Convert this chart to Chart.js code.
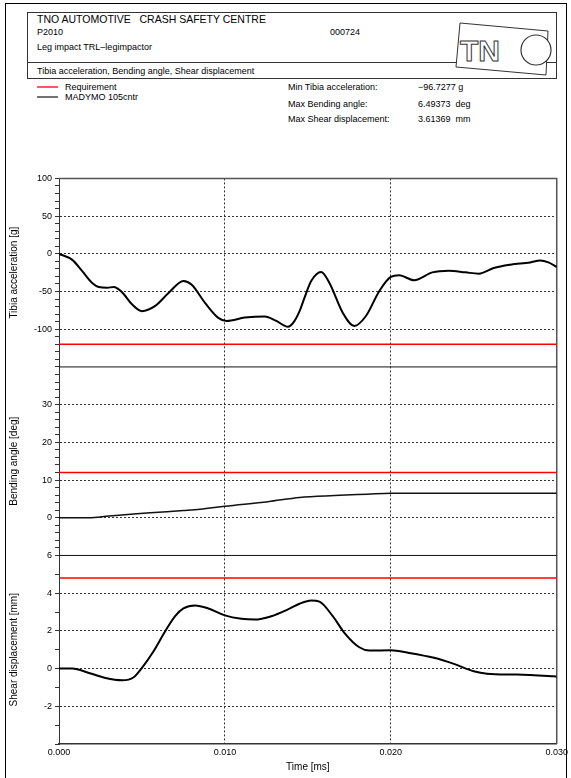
<!DOCTYPE html>
<html>
<head>
<meta charset="utf-8">
<script src="https://cdn.jsdelivr.net/npm/chart.js@4.4.0/dist/chart.umd.min.js"></script>
<style>
  html, body { margin: 0; padding: 0; background: #fff; }
  body { width: 571px; height: 778px; position: relative; overflow: hidden;
         font-family: "Liberation Sans", Arial, sans-serif; color: #000; }
  .frame { position: absolute; left: 5px; top: 3px; width: 560px; height: 800px; border: 1px solid #000; }
  .hdr { position: absolute; left: 27px; top: 12px; width: 528px; height: 65px; border: 1px solid #333; }
  .rule { position: absolute; left: 27px; top: 62px; width: 530px; height: 1px; background: #333; }
  .t { position: absolute; white-space: pre; line-height: 1; font-size: 9px; }
  .big { font-size: 10.5px; }
  .keys { position: absolute; left: 36px; top: 84px; }
  #wrap { position: absolute; left: 0; top: 170px; width: 571px; height: 608px; }
  .logo { position: absolute; left: 450px; top: 17px; }
</style>
</head>
<body>
<div class="frame"></div>
<div class="hdr"></div>
<div class="rule"></div>
<div class="t big" style="left:37px;top:13.5px;">TNO AUTOMOTIVE   CRASH SAFETY CENTRE</div>
<div class="t" style="left:37px;top:27.5px;">P2010</div>
<div class="t" style="left:330px;top:27.5px;">000724</div>
<div class="t" style="left:37px;top:42.5px;">Leg impact TRL–legimpactor</div>
<div class="t" style="left:37px;top:66.5px;">Tibia acceleration, Bending angle, Shear displacement</div>
<svg class="logo" width="106" height="62" viewBox="0 0 106 62">
  <polygon points="10,6 98,14 96,58 6,50" fill="#fff" stroke="#333" stroke-width="1"/>
  <circle cx="86" cy="33" r="15" fill="#fff" stroke="#333" stroke-width="1.2"/>
  <text x="10" y="44" font-family="Liberation Sans, Arial" font-weight="bold" font-size="30" fill="#fff" stroke="#333" stroke-width="1">TN</text>
</svg>

<svg class="keys" width="24" height="16" viewBox="0 0 24 16">
  <line x1="1" y1="3" x2="22" y2="3" stroke="#ff0000" stroke-width="1.3"/>
  <line x1="1" y1="13" x2="22" y2="13" stroke="#000" stroke-width="1.1"/>
</svg>
<div class="t" style="left:65px;top:82.5px;">Requirement</div>
<div class="t" style="left:65px;top:92.5px;">MADYMO 105cntr</div>

<div class="t" style="left:288px;top:82.5px;">Min Tibia acceleration:</div>
<div class="t" style="left:418px;top:82.5px;">−96.7277 g</div>
<div class="t" style="left:288px;top:99.5px;">Max Bending angle:</div>
<div class="t" style="left:418px;top:99.5px;">6.49373  deg</div>
<div class="t" style="left:288px;top:114.5px;">Max Shear displacement:</div>
<div class="t" style="left:418px;top:114.5px;">3.61369  mm</div>

<div id="wrap"><canvas id="c"></canvas></div>

<script>
// time axis [s], labelled as on the plot
const timeTibia = [0, 0.0008, 0.0014, 0.002, 0.0024, 0.0029, 0.0033, 0.0038, 0.0044, 0.005, 0.0058, 0.0066,
  0.0075, 0.008, 0.0088, 0.0096, 0.0101, 0.0112, 0.0124, 0.0131, 0.0138, 0.0141, 0.0145, 0.0148, 0.0152,
  0.0158, 0.0163, 0.0171, 0.0178, 0.0185, 0.0193, 0.02, 0.0205, 0.0214, 0.0225, 0.0235, 0.0245, 0.0253,
  0.0262, 0.0272, 0.0284, 0.029, 0.0295, 0.03];
const tibia = [0, -8, -23, -38.6, -44, -45, -44, -51, -67, -76, -69, -52,
  -36, -41, -65, -85, -89, -84.6, -83, -89, -96.7, -92, -76, -58, -36,
  -24, -38.6, -78, -95.6, -82.5, -49.6, -30.7, -28.5, -35, -24.6, -22.4, -24.6, -26.3,
  -18.9, -14.5, -11.4, -8.8, -11.4, -17.5];

const timeBend = [0, 0.0018, 0.003, 0.0045, 0.006, 0.0075, 0.0085, 0.01, 0.0126, 0.0145, 0.0166, 0.0186, 0.02, 0.03];
const bend = [0, 0, 0.45, 1.0, 1.45, 1.9, 2.24, 3.05, 4.27, 5.4, 5.9, 6.25, 6.49, 6.49];

const timeShear = [0, 0.0008, 0.0018, 0.0028, 0.0038, 0.0045, 0.005, 0.0057, 0.0064, 0.007, 0.0075, 0.0082,
  0.009, 0.01, 0.011, 0.0118, 0.0128, 0.0138, 0.0145, 0.0152, 0.0157, 0.0165, 0.0172, 0.0181, 0.0187,
  0.02, 0.0211, 0.0226, 0.0238, 0.025, 0.0258, 0.0276, 0.0298, 0.03];
const shear = [0, 0, -0.23, -0.5, -0.62, -0.46, 0.04, 0.92, 1.98, 2.78, 3.19, 3.35,
  3.19, 2.82, 2.64, 2.6, 2.78, 3.14, 3.44, 3.61, 3.55, 2.78, 1.9, 1.13, 0.96,
  0.97, 0.83, 0.57, 0.25, -0.14, -0.27, -0.32, -0.41, -0.42];

// requirement levels
const reqTime = [0, 0.03];
const reqTibia = [-120, -120];
const reqBend = [12, 12];
const reqShear = [4.8, 4.8];

const xTicks = [0, 0.01, 0.02, 0.03];

const pts = (xs, ys) => xs.map((x, i) => ({ x: x, y: ys[i] }));

const FONT = "'Liberation Sans', Arial, sans-serif";
const dotted = "#333";
const none = "rgba(0,0,0,0)";

function yAxis(min, max, step, labelled, title, gridAt) {
  return {
    type: "linear", position: "left", stack: "panels", stackWeight: 1,
    min: min, max: max,
    afterFit: (s) => { s.width = 59; },
    ticks: {
      stepSize: step, maxTicksLimit: 100, autoSkip: false, padding: 3,
      color: "#000", font: { family: FONT, size: 9 },
      callback: (v) => (labelled(Math.round(v)) ? String(Math.round(v)) : "")
    },
    grid: {
      color: (c) => (gridAt(Math.round(c.tick.value)) ? dotted : none),
      lineWidth: 1, tickLength: 4, tickColor: "#333", tickWidth: 1
    },
    border: { color: "#333", width: 1, dash: [2, 2] },
    title: { display: true, text: title, color: "#000", font: { family: FONT, size: 10 }, padding: { top: 8, bottom: 0 } }
  };
}

const frameLines = {
  id: "frameLines",
  beforeDatasetsDraw(chart) {
    const { ctx, chartArea: a, scales } = chart;
    ctx.save();
    ctx.strokeStyle = "#555";
    ctx.lineWidth = 1.5;
    ctx.beginPath();
    ctx.moveTo(a.left, a.top);
    ctx.lineTo(a.right, a.top);
    ctx.lineTo(a.right, a.bottom);
    ctx.stroke();
    ctx.strokeStyle = "#111";
    ctx.lineWidth = 1;
    [scales.yTibia.bottom, scales.yBend.bottom].forEach((y) => {
      ctx.beginPath();
      ctx.moveTo(a.left, y);
      ctx.lineTo(a.right, y);
      ctx.stroke();
    });
    ctx.restore();
  }
};

new Chart(document.getElementById("c"), {
  type: "line",
  data: {
    datasets: [
      { label: "Requirement", data: pts(reqTime, reqTibia), yAxisID: "yTibia", borderColor: "#f00", borderWidth: 1.5 },
      { label: "Requirement", data: pts(reqTime, reqBend), yAxisID: "yBend", borderColor: "#f00", borderWidth: 1.5 },
      { label: "Requirement", data: pts(reqTime, reqShear), yAxisID: "yShear", borderColor: "#f00", borderWidth: 1.5 },
      { label: "MADYMO 105cntr", data: pts(timeTibia, tibia), yAxisID: "yTibia", borderColor: "#000", borderWidth: 2, cubicInterpolationMode: "monotone" },
      { label: "MADYMO 105cntr", data: pts(timeBend, bend), yAxisID: "yBend", borderColor: "#111", borderWidth: 1.5, cubicInterpolationMode: "monotone" },
      { label: "MADYMO 105cntr", data: pts(timeShear, shear), yAxisID: "yShear", borderColor: "#000", borderWidth: 2, cubicInterpolationMode: "monotone" }
    ]
  },
  options: {
    responsive: true,
    maintainAspectRatio: false,
    animation: false,
    elements: { point: { radius: 0 } },
    layout: { padding: { top: 8, right: 14, left: 0, bottom: 4 } },
    plugins: { legend: { display: false }, tooltip: { enabled: false } },
    scales: {
      x: {
        type: "linear", min: 0, max: 0.03,
        afterFit: (s) => { s.height = 30; },
        afterBuildTicks: (s) => { s.ticks = xTicks.map((v) => ({ value: v })); },
        ticks: { padding: 3, color: "#000", font: { family: FONT, size: 9 }, callback: (v) => v.toFixed(3) },
        grid: {
          drawTicks: false, lineWidth: 1,
          color: (c) => { const k = Math.round(c.tick.value * 1000); return (k === 10 || k === 20) ? dotted : none; }
        },
        border: { color: "#333", width: 1.5, dash: [2, 2] },
        title: { display: true, text: "Time [ms]", color: "#000", font: { family: FONT, size: 10 }, padding: { top: 0, bottom: 1 } }
      },
      // last defined sits on top of the stack
      yShear: yAxis(-4, 6, 1, (v) => v % 2 === 0 && v !== -4, "Shear displacement [mm]",
        (v) => v % 2 === 0 && v > -4 && v < 6),
      yBend: yAxis(-10, 40, 2, (v) => v % 10 === 0 && v > -10 && v < 40, "Bending angle [deg]",
        (v) => v % 10 === 0 && v > -10 && v < 40),
      yTibia: yAxis(-150, 100, 10, (v) => v % 50 === 0 && v > -150, "Tibia acceleration [g]",
        (v) => v % 50 === 0 && v > -150 && v < 100)
    }
  },
  plugins: [frameLines]
});
</script>
</body>
</html>
